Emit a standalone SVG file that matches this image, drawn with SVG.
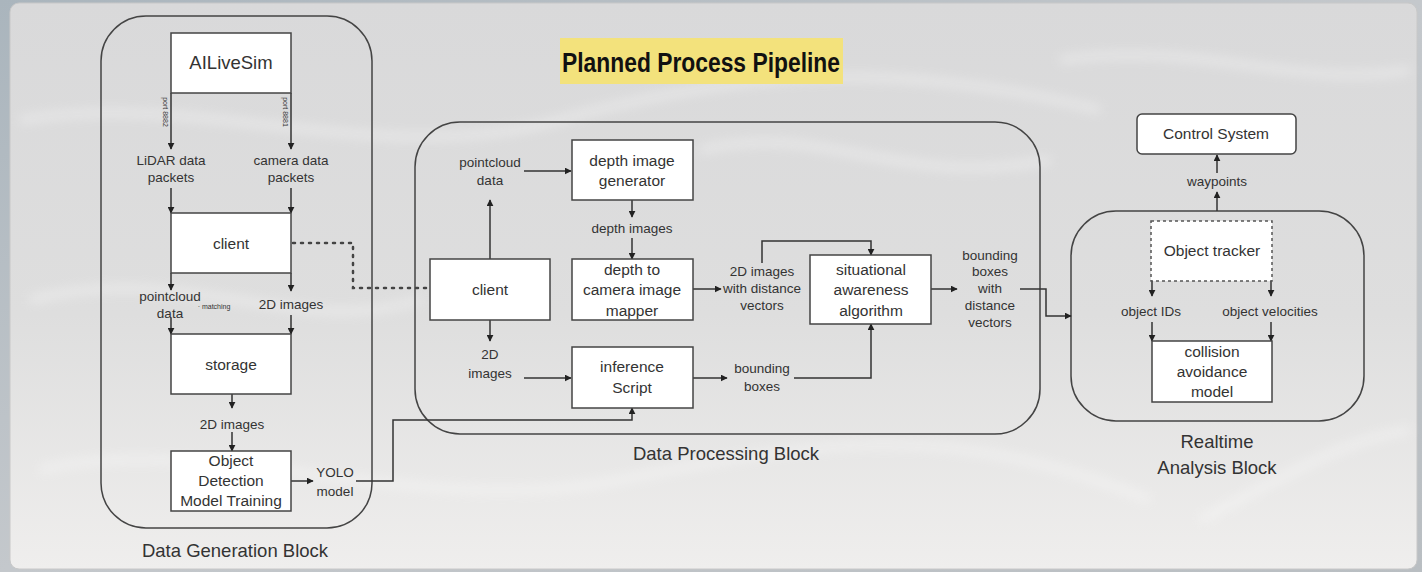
<svg xmlns="http://www.w3.org/2000/svg" width="1422" height="572" viewBox="0 0 1422 572">
  <defs>
    <linearGradient id="bgOuter" x1="0" y1="0" x2="1" y2="1">
      <stop offset="0" stop-color="#aab5bd"/>
      <stop offset="0.5" stop-color="#c4c8cc"/>
      <stop offset="1" stop-color="#b9bec2"/>
    </linearGradient>
    <linearGradient id="panel" x1="0" y1="0" x2="0" y2="1">
      <stop offset="0" stop-color="#d9d9da"/>
      <stop offset="0.55" stop-color="#dedede"/>
      <stop offset="1" stop-color="#efeeed"/>
    </linearGradient>
    <filter id="soft" x="-10%" y="-50%" width="120%" height="200%">
      <feGaussianBlur stdDeviation="6"/>
    </filter>
    <marker id="arr" viewBox="0 0 10 10" refX="9" refY="5" markerWidth="7" markerHeight="7" orient="auto" markerUnits="userSpaceOnUse">
      <path d="M0,0 L10,5 L0,10 z" fill="#222"/>
    </marker>
    <style>
      .blk { fill: none; stroke: #444; stroke-width: 1.5; }
      .box { fill: #ffffff; stroke: #444; stroke-width: 1.5; }
      .dash { fill: #ffffff; stroke: #555; stroke-width: 1.5; stroke-dasharray: 3 3; }
      .ln { fill: none; stroke: #333; stroke-width: 1.5; }
      .ar { fill: none; stroke: #333; stroke-width: 1.5; marker-end: url(#arr); }
      .dot { fill: none; stroke: #444; stroke-width: 2.5; stroke-dasharray: 2 6; stroke-linecap: round; }
      text { font-family: "Liberation Sans", Arial, sans-serif; fill: #333; text-anchor: middle; }
      .t { font-size: 15.5px; }
      .s { font-size: 13.5px; }
      .xs { font-size: 7px; }
      .big { font-size: 18.5px; }
      .title { font-size: 27px; font-weight: bold; fill: #111; text-anchor: start; }
    </style>
  </defs>

  <!-- backdrop -->
  <rect x="0" y="0" width="1422" height="572" fill="url(#bgOuter)"/>
  <rect x="10" y="3" width="1407" height="566" rx="9" fill="url(#panel)" stroke="#c8c8c8" stroke-width="1"/>
  <g opacity="0.55" filter="url(#soft)" fill="none" stroke="#ffffff" stroke-width="5">
    <path d="M20,120 C200,90 380,170 560,120 S900,60 1100,110"/>
    <path d="M30,300 C180,260 300,340 420,300"/>
    <path d="M700,150 C820,120 900,190 1050,160"/>
    <path d="M40,470 C200,430 420,520 620,480 S950,420 1150,500"/>
    <path d="M1060,60 C1200,40 1300,90 1410,70"/>
    <path d="M1200,520 C1280,480 1340,440 1410,430"/>
  </g>

  <!-- title -->
  <g id="title">
    <rect x="560" y="38" width="283" height="46" fill="#f3e27c"/>
    <text class="title" x="562" y="72" textLength="278" lengthAdjust="spacingAndGlyphs">Planned Process Pipeline</text>
  </g>

  <!-- blocks -->
  <g id="data-generation-block">
    <rect class="blk" x="101" y="16" width="271" height="512" rx="45"/>
    <text class="big" x="235" y="557">Data Generation Block</text>
  </g>
  <g id="data-processing-block">
    <rect class="blk" x="415" y="122" width="625" height="312" rx="45"/>
    <text class="big" x="726" y="460">Data Processing Block</text>
  </g>
  <g id="realtime-analysis-block">
    <rect class="blk" x="1071" y="211" width="293" height="210" rx="45"/>
    <text class="big" x="1217" y="448">Realtime</text>
    <text class="big" x="1217" y="474">Analysis Block</text>
  </g>

  <!-- connectors -->
  <g id="connectors">
    <!-- data generation -->
    <line class="ar" x1="171" y1="93" x2="171" y2="149"/>
    <line class="ar" x1="291" y1="93" x2="291" y2="149"/>
    <line class="ar" x1="171" y1="188" x2="171" y2="213"/>
    <line class="ar" x1="291" y1="188" x2="291" y2="213"/>
    <line class="ar" x1="171" y1="273" x2="171" y2="290"/>
    <line class="ar" x1="291" y1="273" x2="291" y2="291"/>
    <line class="ar" x1="171" y1="318" x2="171" y2="334"/>
    <line class="ar" x1="291" y1="315" x2="291" y2="334"/>
    <line class="ar" x1="232" y1="394" x2="232" y2="408"/>
    <line class="ar" x1="232" y1="432" x2="232" y2="451"/>
    <line class="ar" x1="291" y1="481" x2="313" y2="481"/>
    <polyline class="ar" points="356,481 393,481 393,420 632,420 632,408"/>
    <polyline class="dot" points="293,243 353,243 353,288 428,288"/>
    <!-- data processing -->
    <line class="ar" x1="490" y1="259" x2="490" y2="200"/>
    <line class="ar" x1="490" y1="320" x2="490" y2="341"/>
    <line class="ar" x1="524" y1="171" x2="571" y2="171"/>
    <line class="ar" x1="632" y1="200" x2="632" y2="217"/>
    <line class="ar" x1="632" y1="238" x2="632" y2="259"/>
    <line class="ar" x1="693" y1="289" x2="721" y2="289"/>
    <polyline class="ar" points="762,263 762,241 871,241 871,255"/>
    <line class="ar" x1="931" y1="289" x2="957" y2="289"/>
    <line class="ar" x1="524" y1="378" x2="571" y2="378"/>
    <line class="ar" x1="693" y1="378" x2="727" y2="378"/>
    <polyline class="ar" points="794,378 871,378 871,324"/>
    <polyline class="ar" points="1020,289 1046,289 1046,316 1071,316"/>
    <!-- realtime analysis -->
    <line class="ar" x1="1217" y1="211" x2="1217" y2="192"/>
    <line class="ar" x1="1217" y1="173" x2="1217" y2="155"/>
    <line class="ar" x1="1152" y1="281" x2="1152" y2="296"/>
    <line class="ar" x1="1271" y1="281" x2="1271" y2="296"/>
    <line class="ar" x1="1152" y1="322" x2="1152" y2="341"/>
    <line class="ar" x1="1271" y1="322" x2="1271" y2="341"/>
  </g>

  <!-- connector labels -->
  <g id="labels">
    <text class="xs" transform="translate(163,112) rotate(90)">port 8882</text>
    <text class="xs" transform="translate(283,112) rotate(90)">port 8881</text>
    <text class="s" x="171" y="165">LiDAR data</text>
    <text class="s" x="171" y="182">packets</text>
    <text class="s" x="291" y="165">camera data</text>
    <text class="s" x="291" y="182">packets</text>
    <text class="s" x="170" y="301">pointcloud</text>
    <text class="s" x="170" y="318">data</text>
    <text class="xs" x="214" y="309">· matching</text>
    <text class="s" x="291" y="309">2D images</text>
    <text class="s" x="232" y="429">2D images</text>
    <text class="s" x="335" y="477">YOLO</text>
    <text class="s" x="335" y="496">model</text>

    <text class="s" x="490" y="167">pointcloud</text>
    <text class="s" x="490" y="185">data</text>
    <text class="s" x="490" y="359">2D</text>
    <text class="s" x="490" y="378">images</text>
    <text class="s" x="632" y="233">depth images</text>
    <text class="s" x="762" y="276">2D images</text>
    <text class="s" x="762" y="293">with distance</text>
    <text class="s" x="762" y="310">vectors</text>
    <text class="s" x="762" y="373">bounding</text>
    <text class="s" x="762" y="391">boxes</text>
    <text class="s" x="990" y="260">bounding</text>
    <text class="s" x="990" y="276">boxes</text>
    <text class="s" x="990" y="293">with</text>
    <text class="s" x="990" y="310">distance</text>
    <text class="s" x="990" y="327">vectors</text>

    <text class="s" x="1217" y="186">waypoints</text>
    <text class="s" x="1151" y="316">object IDs</text>
    <text class="s" x="1270" y="316">object velocities</text>
  </g>

  <!-- nodes: data generation -->
  <g id="ailivesim">
    <rect class="box" x="171" y="33" width="120" height="60"/>
    <text class="big" x="231" y="69">AILiveSim</text>
  </g>
  <g id="client-gen">
    <rect class="box" x="171" y="213" width="120" height="60"/>
    <text class="t" x="231" y="249">client</text>
  </g>
  <g id="storage">
    <rect class="box" x="171" y="334" width="120" height="60"/>
    <text class="t" x="231" y="370">storage</text>
  </g>
  <g id="object-detection-training">
    <rect class="box" x="171" y="451" width="120" height="60"/>
    <text class="t" x="231" y="466">Object</text>
    <text class="t" x="231" y="486">Detection</text>
    <text class="t" x="231" y="506">Model Training</text>
  </g>

  <!-- nodes: data processing -->
  <g id="client-proc">
    <rect class="box" x="430" y="259" width="120" height="61"/>
    <text class="t" x="490" y="295">client</text>
  </g>
  <g id="depth-image-generator">
    <rect class="box" x="572" y="140" width="121" height="60"/>
    <text class="t" x="632" y="166">depth image</text>
    <text class="t" x="632" y="186">generator</text>
  </g>
  <g id="depth-to-camera-mapper">
    <rect class="box" x="572" y="259" width="121" height="61"/>
    <text class="t" x="632" y="275">depth to</text>
    <text class="t" x="632" y="295">camera image</text>
    <text class="t" x="632" y="316">mapper</text>
  </g>
  <g id="inference-script">
    <rect class="box" x="572" y="347" width="121" height="61"/>
    <text class="t" x="632" y="372">inference</text>
    <text class="t" x="632" y="393">Script</text>
  </g>
  <g id="situational-awareness">
    <rect class="box" x="810" y="255" width="121" height="69"/>
    <text class="t" x="871" y="275">situational</text>
    <text class="t" x="871" y="295">awareness</text>
    <text class="t" x="871" y="316">algorithm</text>
  </g>

  <!-- nodes: realtime analysis -->
  <g id="control-system">
    <rect class="box" x="1137" y="114" width="159" height="40" rx="5"/>
    <text class="t" x="1216" y="139">Control System</text>
  </g>
  <g id="object-tracker">
    <rect class="dash" x="1151" y="221" width="121" height="60"/>
    <text class="t" x="1212" y="256">Object tracker</text>
  </g>
  <g id="collision-avoidance">
    <rect class="box" x="1152" y="341" width="120" height="61"/>
    <text class="t" x="1212" y="357">collision</text>
    <text class="t" x="1212" y="377">avoidance</text>
    <text class="t" x="1212" y="397">model</text>
  </g>
</svg>
